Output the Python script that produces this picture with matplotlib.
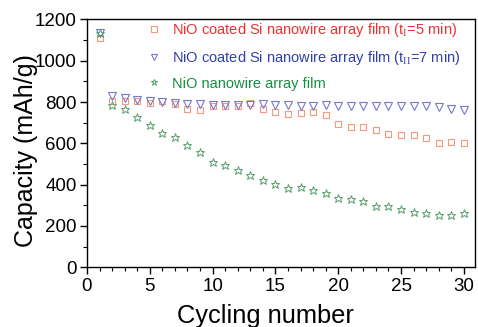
import matplotlib
matplotlib.use("Agg")
import matplotlib.pyplot as plt
from matplotlib.ticker import MultipleLocator

plt.rcParams['font.family'] = ['Liberation Sans', 'DejaVu Sans']
plt.rcParams['mathtext.fontset'] = 'custom'
plt.rcParams['mathtext.rm'] = 'Liberation Serif'

cycles = list(range(1, 31))
nio_si_5min = [1110, 805, 805, 805, 796, 805, 792, 768, 760, 783,
               783, 783, 794, 765, 754, 744, 746, 752, 737, 692,
               678, 681, 666, 647, 641, 639, 626, 603, 605, 603]
nio_si_7min = [1133, 830, 818, 810, 807, 799, 797, 792, 789, 787,
               785, 784, 784, 789, 784, 784, 783, 783, 785, 783,
               783, 783, 783, 783, 783, 783, 780, 775, 768, 763]
nio_nw = [1133, 787, 765, 729, 689, 652, 629, 591, 560, 508,
          494, 471, 448, 423, 405, 384, 390, 376, 358, 337,
          329, 321, 295, 296, 282, 269, 264, 252, 252, 264]

labels = ["NiO coated Si nanowire array film (t$_{\\rm I}$=5 min)",
          "NiO coated Si nanowire array film (t$_{\\rm II}$=7 min)",
          "NiO nanowire array film"]

fig = plt.figure(figsize=(4.78, 3.27), dpi=100)
ax = fig.add_axes([0.182, 0.1826, 0.812, 0.7578])

ax.plot(cycles, nio_si_5min, ls='none', marker='s', ms=4.6, mfc='none',
        mec='#f4997a', mew=0.8, label=labels[0])
ax.plot(cycles, nio_si_7min, ls='none', marker='v', ms=5.6, mfc='none',
        mec='#7878c8', mew=0.8, label=labels[1])
ax.plot(cycles, nio_nw, ls='none', marker='*', ms=6.3, mfc='none',
        mec='#5a9f6e', mew=0.7, label=labels[2])

ax.set_xlim(0, 30.9)
ax.set_ylim(0, 1200)
ax.xaxis.set_major_locator(MultipleLocator(5))
ax.xaxis.set_minor_locator(MultipleLocator(1))
ax.yaxis.set_major_locator(MultipleLocator(200))
ax.yaxis.set_minor_locator(MultipleLocator(100))
ax.tick_params(which='major', direction='out', length=5, width=1, labelsize=13.5, pad=2.5)
ax.tick_params(which='minor', direction='out', length=3, width=0.8)
for s in ax.spines.values():
    s.set_linewidth(1.0)

ax.set_xlabel("Cycling number", fontsize=18.3)
ax.set_ylabel("Capacity (mAh/g)", fontsize=18)
ax.xaxis.set_label_coords(0.46, -0.148)
ax.yaxis.set_label_coords(-0.126, 0.473)

leg = ax.legend(loc='upper left', bbox_to_anchor=(0.154, 0.995), frameon=False,
                fontsize=10.5, handletextpad=0.73, labelspacing=0.68,
                borderaxespad=0, borderpad=0, handlelength=1.0, markerscale=0.8)
for t, c in zip(leg.get_texts(), ['#f03030', '#3040b0', '#149040']):
    t.set_color(c)

fig.savefig("out.png", dpi=100)
